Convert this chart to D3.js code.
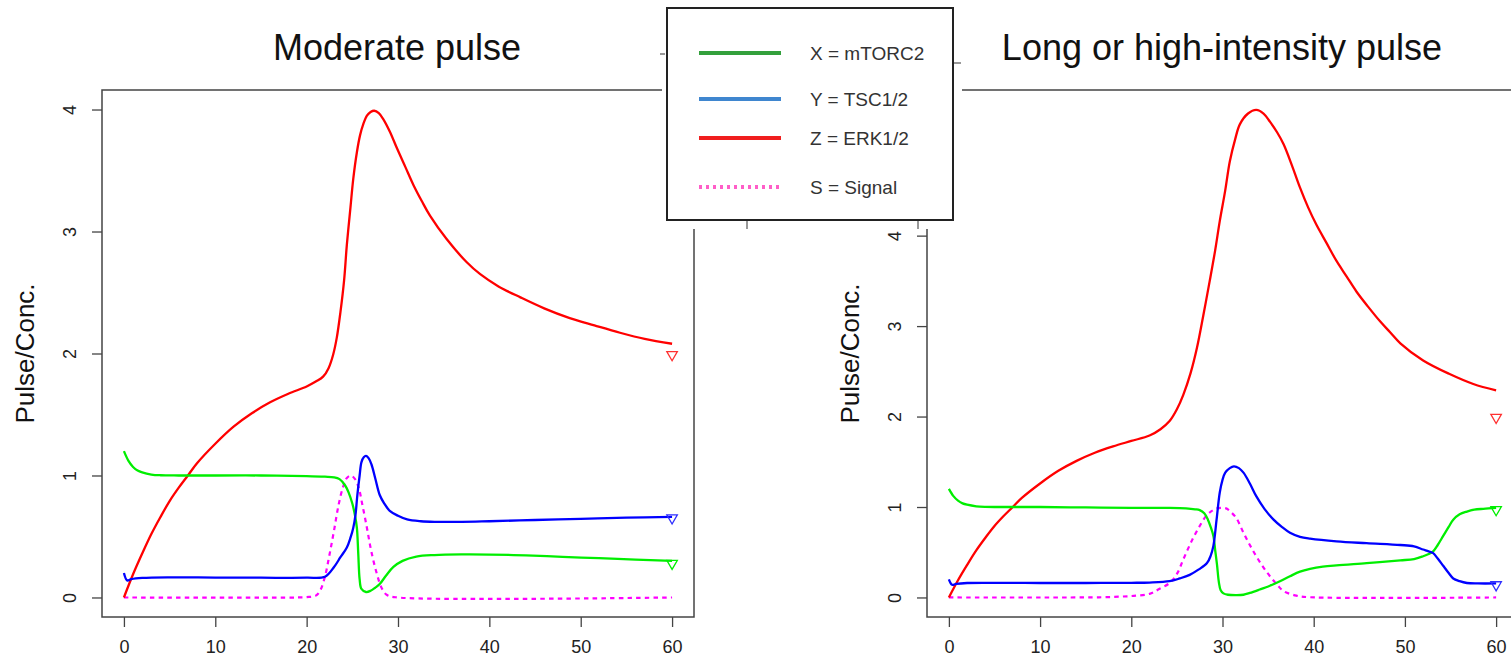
<!DOCTYPE html>
<html>
<head>
<meta charset="utf-8">
<script src="https://cdn.jsdelivr.net/npm/d3@7"></script>
<style>
  html, body { margin: 0; padding: 0; background: #fff; }
  svg { display: block; font-family: "Liberation Sans", Arial, Helvetica, sans-serif; }
</style>
</head>
<body>
<svg id="chart" width="1511" height="664"></svg>
<script>
// ---------------- DATA ----------------
const panelTitles = ["Moderate pulse", "Long or high-intensity pulse"];
const yAxisLabel = "Pulse/Conc.";
const xTicks = [0, 10, 20, 30, 40, 50, 60];
const yTicksLeft = [0, 1, 2, 3, 4];
const yTicksRight = [0, 1, 2, 3, 4, 5];
const legendLabels = ["X = mTORC2", "Y = TSC1/2", "Z = ERK1/2", "S = Signal"];

// Moderate pulse (left)
const greenTL = [0, 0.5, 1, 1.5, 2, 3, 4, 6, 10, 15, 20, 22, 23, 23.6, 24.2, 24.6, 25.0, 25.3, 25.5, 25.65, 25.8, 26.0, 26.5, 27.0, 27.5, 28.0, 28.7, 29.5, 30.5, 32, 34, 37, 40, 44, 48, 52, 56, 60];
const greenVL = [1.20, 1.12, 1.07, 1.04, 1.025, 1.008, 1.002, 1.0, 1.0, 1.0, 0.995, 0.99, 0.985, 0.97, 0.92, 0.86, 0.77, 0.67, 0.57, 0.36, 0.15, 0.07, 0.045, 0.055, 0.08, 0.11, 0.18, 0.25, 0.30, 0.335, 0.348, 0.353, 0.352, 0.345, 0.333, 0.322, 0.31, 0.30];

const blueTL = [0, 0.35, 0.8, 2, 5, 10, 15, 20, 22, 23, 23.7, 24.4, 24.8, 25.1, 25.35, 25.55, 25.8, 26.0, 26.25, 26.5, 26.8, 27.1, 27.5, 28.0, 28.5, 29.1, 30, 31, 32.5, 34, 37, 40, 45, 50, 55, 60];
const blueVL = [0.20, 0.14, 0.15, 0.16, 0.165, 0.163, 0.162, 0.162, 0.17, 0.25, 0.33, 0.41, 0.49, 0.57, 0.68, 0.84, 1.00, 1.11, 1.15, 1.16, 1.14, 1.09, 0.98, 0.84, 0.77, 0.71, 0.67, 0.64, 0.625, 0.62, 0.62, 0.625, 0.635, 0.645, 0.655, 0.66];

const redTL = [0, 1, 2, 3, 4, 5, 6, 7, 8, 10, 12, 14, 16, 18, 20, 21, 21.8, 22.4, 22.9, 23.3, 23.7, 24.1, 24.4, 24.8, 25.1, 25.5, 25.85, 26.2, 26.6, 27.0, 27.4, 27.9, 28.4, 29.1, 29.9, 30.8, 31.7, 32.6, 33.5, 35.3, 37.5, 39, 41, 43.4, 46, 48.8, 51.5, 54.3, 57, 60];
const redVL = [0, 0.19, 0.36, 0.52, 0.66, 0.79, 0.90, 1.0, 1.10, 1.26, 1.40, 1.51, 1.60, 1.67, 1.73, 1.77, 1.81, 1.88, 1.99, 2.13, 2.34, 2.6, 2.89, 3.2, 3.43, 3.65, 3.79, 3.88, 3.95, 3.98, 3.99, 3.97, 3.92, 3.82, 3.68, 3.53, 3.38, 3.25, 3.13, 2.94, 2.75, 2.65, 2.55, 2.46, 2.37, 2.29, 2.23, 2.17, 2.12, 2.08];

const sigTL = [0, 19, 20, 21, 21.5, 22, 22.5, 23, 23.5, 24, 24.4, 24.85, 25.3, 25.7, 26.1, 26.6, 27.1, 27.7, 28.2, 28.8, 30, 60];
const sigVL = [0, 0, 0.003, 0.015, 0.06, 0.17, 0.35, 0.55, 0.76, 0.91, 0.98, 1.0, 0.97, 0.90, 0.76, 0.57, 0.37, 0.19, 0.08, 0.02, 0, 0];

const markersL = [0.28, 0.652, 1.99]; // green, blue, red at t = 60

// Long or high-intensity pulse (right)
const greenTR = [0, 0.5, 1, 1.5, 2, 3, 4, 6, 10, 15, 20, 24, 26, 27, 27.5, 28, 28.4, 28.7, 29.0, 29.2, 29.4, 29.6, 29.8, 30.1, 30.6, 31.5, 32.3, 33, 34, 35.2, 36.3, 37.4, 38.5, 39.6, 41, 42.5, 45.8, 49.5, 51, 52, 52.6, 53.1, 53.6, 54.2, 54.8, 55.3, 56, 56.8, 57.6, 58.6, 60];
const greenVR = [1.20, 1.12, 1.07, 1.04, 1.025, 1.008, 1.002, 1.0, 1.0, 0.995, 0.99, 0.99, 0.985, 0.975, 0.965, 0.93, 0.86, 0.78, 0.68, 0.52, 0.36, 0.17, 0.08, 0.045, 0.03, 0.026, 0.03, 0.05, 0.085, 0.13, 0.18, 0.235, 0.285, 0.315, 0.34, 0.355, 0.38, 0.41, 0.425, 0.456, 0.48, 0.51, 0.58, 0.68, 0.78, 0.86, 0.92, 0.95, 0.97, 0.98, 0.99];

const blueTR = [0, 0.35, 0.8, 2, 5, 10, 15, 20, 22, 24.2, 25.3, 26.4, 27.4, 28.3, 28.7, 29.0, 29.35, 29.7, 30.0, 30.3, 30.8, 31.25, 31.8, 32.3, 33.0, 33.7, 34.6, 35.6, 36.5, 37.4, 38.5, 39.6, 42.5, 45.8, 49.5, 51, 52, 52.6, 53.1, 53.6, 54.2, 54.8, 55.3, 56, 56.8, 58, 60];
const blueVR = [0.20, 0.14, 0.15, 0.16, 0.162, 0.16, 0.16, 0.162, 0.165, 0.18, 0.21, 0.25, 0.31, 0.38, 0.46, 0.57, 0.86, 1.16, 1.30, 1.38, 1.43, 1.45, 1.43, 1.38, 1.26, 1.12, 0.98, 0.86, 0.78, 0.715, 0.67, 0.65, 0.62, 0.60, 0.58, 0.565, 0.53, 0.51, 0.49, 0.43, 0.35, 0.27, 0.21, 0.18, 0.16, 0.155, 0.155];

const redTR = [0, 1, 2, 3, 4, 5, 6, 7, 8, 10, 12, 14, 16, 18, 20, 22, 23.2, 24.2, 25, 25.7, 26.5, 27.2, 27.9, 28.6, 29.2, 29.7, 30.3, 30.8, 31.4, 31.9, 32.8, 33.7, 34.5, 35.2, 36, 36.7, 37.6, 38.5, 39.4, 40.3, 41.4, 42.5, 43.6, 44.7, 46, 47.3, 48.4, 49.5, 52, 54.9, 57.5, 60];
const redVR = [0, 0.19, 0.36, 0.52, 0.66, 0.79, 0.90, 1.0, 1.10, 1.26, 1.40, 1.51, 1.60, 1.67, 1.73, 1.79, 1.86, 1.95, 2.08, 2.24, 2.48, 2.76, 3.12, 3.50, 3.84, 4.16, 4.50, 4.82, 5.07, 5.23, 5.35, 5.39, 5.35, 5.26, 5.14, 5.01, 4.78, 4.53, 4.31, 4.12, 3.92, 3.72, 3.55, 3.38, 3.21, 3.05, 2.93, 2.81, 2.62, 2.47, 2.36, 2.29];

const sigTR = [0, 14, 17, 19, 20.5, 22, 23, 24.2, 25, 25.7, 26.6, 27.5, 28.2, 28.8, 29.4, 29.9, 30.4, 30.8, 31.5, 32.3, 33, 33.7, 34.5, 35.2, 36, 36.7, 38.1, 39.5, 60];
const sigVR = [0, 0, 0.003, 0.01, 0.02, 0.04, 0.09, 0.16, 0.26, 0.42, 0.62, 0.79, 0.90, 0.955, 0.985, 0.99, 0.985, 0.955, 0.88, 0.715, 0.58, 0.456, 0.33, 0.235, 0.14, 0.07, 0.02, 0.003, 0];

const markersR = [0.97, 0.14, 1.99]; // green, blue, red at t = 60

// ---------------- DRAW ----------------
const svg = d3.select("#chart");
const COLORS = { green: "#00ee00", blue: "#0000ff", red: "#ff0000", sig: "#ff00ff" };

function zip(ts, vs) { return ts.map((t, i) => ({ t, v: vs[i] })); }

function drawPanel(cfg) {
  const x = d3.scaleLinear().domain([-2.4, 62.4]).range([cfg.left, cfg.right]);
  const y = d3.scaleLinear().domain(cfg.yDomain).range([cfg.bottom, cfg.top]);
  const g = svg.append("g");

  // x axis
  const xa = g.append("g").attr("transform", `translate(0,${cfg.bottom})`)
    .call(d3.axisBottom(x).tickValues(xTicks).tickSize(10).tickPadding(13).tickFormat(d3.format("d")));
  xa.select(".domain").remove();
  xa.selectAll(".tick line").attr("stroke", "#444").attr("stroke-width", 1.3);
  xa.selectAll(".tick text")
    .style("font-size", "18px").style("font-family", "'Liberation Sans', Arial, sans-serif")
    .attr("fill", "#222");

  // y axis
  const ya = g.append("g").attr("transform", `translate(${cfg.left},0)`)
    .call(d3.axisLeft(y).tickValues(cfg.yTicks).tickSize(10).tickFormat(d3.format("d")));
  ya.select(".domain").remove();
  ya.selectAll(".tick line").attr("stroke", "#444").attr("stroke-width", 1.3);
  ya.selectAll(".tick text")
    .attr("x", null)
    .attr("transform", "translate(-32,0) rotate(-90)")
    .attr("text-anchor", "middle").attr("dy", "0.35em")
    .style("font-size", "18px").style("font-family", "'Liberation Sans', Arial, sans-serif")
    .attr("fill", "#222");

  // box
  g.append("rect").attr("x", cfg.left).attr("y", cfg.top)
    .attr("width", cfg.right - cfg.left).attr("height", cfg.bottom - cfg.top)
    .attr("fill", "none").attr("stroke", "#444").attr("stroke-width", 1.5);

  // title
  g.append("text").attr("x", cfg.titleX).attr("y", 60).attr("text-anchor", "middle")
    .style("font-size", "36px").attr("fill", "#111").text(cfg.title);

  // y label
  g.append("text").attr("transform", `translate(${cfg.ylabX},${(cfg.top + cfg.bottom) / 2}) rotate(-90)`)
    .attr("text-anchor", "middle").attr("dy", "0.35em")
    .style("font-size", "26px").attr("fill", "#111").text(yAxisLabel);

  const line = d3.line().x(d => x(d.t)).y(d => y(d.v)).curve(d3.curveCatmullRom.alpha(0.5));
  const plot = g.append("g");
  plot.append("path").datum(zip(cfg.sig[0], cfg.sig[1])).attr("d", line)
    .attr("fill", "none").attr("stroke", COLORS.sig).attr("stroke-width", 2.2)
    .attr("stroke-dasharray", "4.5,4.2");
  plot.append("path").datum(zip(cfg.red[0], cfg.red[1])).attr("d", line)
    .attr("fill", "none").attr("stroke", COLORS.red).attr("stroke-width", 2.3);
  plot.append("path").datum(zip(cfg.green[0], cfg.green[1])).attr("d", line)
    .attr("fill", "none").attr("stroke", COLORS.green).attr("stroke-width", 2.3);
  plot.append("path").datum(zip(cfg.blue[0], cfg.blue[1])).attr("d", line)
    .attr("fill", "none").attr("stroke", COLORS.blue).attr("stroke-width", 2.3);

  // end markers (open down-pointing triangles)
  const tri = d3.symbol().type(d3.symbolTriangle).size(48);
  const mk = [
    { v: cfg.markers[0], c: COLORS.green },
    { v: cfg.markers[1], c: "#3030ff" },
    { v: cfg.markers[2], c: "#ff3030" }
  ];
  plot.selectAll(".mk").data(mk).enter().append("path")
    .attr("d", tri())
    .attr("transform", d => `translate(${x(60)},${y(d.v)}) rotate(180)`)
    .attr("fill", "none").attr("stroke", d => d.c).attr("stroke-width", 1.3);
}

drawPanel({
  left: 102, right: 694, top: 90, bottom: 617,
  yDomain: [-0.16, 4.16], yTicks: yTicksLeft,
  title: panelTitles[0], titleX: 397, ylabX: 25,
  green: [greenTL, greenVL], blue: [blueTL, blueVL], red: [redTL, redVL], sig: [sigTL, sigVL],
  markers: markersL
});
drawPanel({
  left: 927, right: 1518, top: 90, bottom: 617,
  yDomain: [-0.216, 5.61], yTicks: yTicksRight,
  title: panelTitles[1], titleX: 1222, ylabX: 850,
  green: [greenTR, greenVR], blue: [blueTR, blueVR], red: [redTR, redVR], sig: [sigTR, sigVR],
  markers: markersR
});

// ---------------- LEGEND (pasted box) ----------------
const lg = svg.append("g");
lg.append("rect").attr("x", 662).attr("y", 0).attr("width", 300).attr("height", 229).attr("fill", "#fff");
// small grey residue marks around the pasted legend
[[660, 54, 665, 54], [953, 63, 961, 63], [747, 220, 747, 229], [918, 220, 918, 229]].forEach(s => {
  lg.append("line").attr("x1", s[0]).attr("y1", s[1]).attr("x2", s[2]).attr("y2", s[3])
    .attr("stroke", "#999").attr("stroke-width", 2);
});
lg.append("rect").attr("x", 667).attr("y", 8).attr("width", 286).attr("height", 212)
  .attr("fill", "#fff").attr("stroke", "#222").attr("stroke-width", 2);

const legendColors = ["#33a03c", "#3f86cf", "#f01e1e", "#ff5ec8"];
const legendY = [53, 99, 138, 187];
legendLabels.forEach((lab, i) => {
  const l = lg.append("line").attr("x1", 699).attr("x2", 781).attr("y1", legendY[i]).attr("y2", legendY[i])
    .attr("stroke", legendColors[i]).attr("stroke-width", 4);
  if (i === 3) l.attr("stroke-dasharray", "3,4").attr("stroke-width", 4);
  lg.append("text").attr("x", 810).attr("y", legendY[i] + 7)
    .style("font-size", "19px").attr("fill", "#333")
    .style("font-family", "'Liberation Sans Narrow', 'Liberation Sans', Arial, sans-serif")
    .text(lab);
});
</script>
</body>
</html>
